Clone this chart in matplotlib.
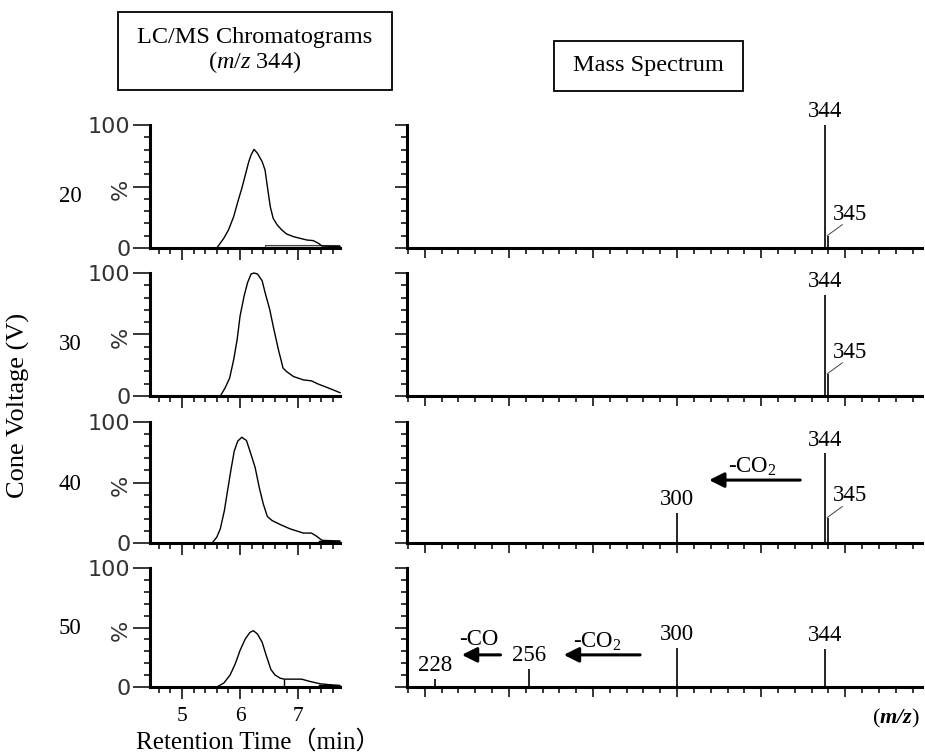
import matplotlib.pyplot as plt
import matplotlib.patches as patches
import numpy as np

W, H = 925, 755
plt.rcParams['font.family'] = 'Liberation Serif'
plt.rcParams['mathtext.fontset'] = 'custom'
plt.rcParams['mathtext.rm'] = 'Liberation Serif'
plt.rcParams['mathtext.it'] = 'Liberation Serif:italic'
plt.rcParams['mathtext.bf'] = 'Liberation Serif:italic:bold'

# cone voltages (V), one row each
voltages = ['20', '30', '40', '50']

# LC/MS chromatograms of m/z 344: retention time (min) and relative intensity (%)
rt_20 = [4.45, 5.60, 5.72, 5.80, 5.89, 5.97, 6.03, 6.09, 6.15, 6.19, 6.24, 6.30, 6.38,
         6.43, 6.47, 6.52, 6.57, 6.64, 6.72, 6.80, 6.92, 7.03, 7.15, 7.26, 7.35, 7.41, 7.72]
in_20 = [0, 0, 7.9, 14.6, 25.5, 39, 48.5, 59.3, 70.2, 75.6, 80.2, 77, 70.2,
         63.4, 49.9, 33.6, 24.1, 18.7, 14.6, 11.4, 9.2, 7.9, 6.5, 6, 3.8, 1.6, 1.2]
rt_30 = [4.45, 5.66, 5.74, 5.82, 5.89, 5.95, 6.00, 6.07, 6.13, 6.19, 6.24, 6.30, 6.38,
         6.43, 6.51, 6.57, 6.66, 6.74, 6.80, 6.92, 7.09, 7.23, 7.35, 7.49, 7.72]
in_30 = [0, 0, 6.3, 14.5, 29.5, 45.9, 65, 81.4, 92.3, 99.2, 100, 99.2, 93.7,
         84.2, 70.5, 56.8, 37.7, 22.7, 19.9, 15.8, 13.1, 12.3, 9.6, 7.1, 2.7]
rt_40 = [4.45, 5.52, 5.60, 5.66, 5.73, 5.78, 5.84, 5.90, 5.96, 6.03, 6.11, 6.17, 6.26,
         6.33, 6.40, 6.47, 6.55, 6.69, 6.86, 7.09, 7.23, 7.32, 7.41, 7.72]
in_40 = [0, 0, 4.9, 11.7, 26.8, 41.8, 59.6, 76, 84.2, 87.4, 84.7, 76, 62.3,
         45.9, 32.2, 21.9, 18.6, 15.3, 11.7, 8.2, 8.2, 5.5, 2.2, 1.6]
rt_50 = [4.45, 5.60, 5.72, 5.83, 5.92, 6.00, 6.09, 6.17, 6.23, 6.30, 6.38, 6.45, 6.53,
         6.60, 6.69, 6.76, 7.06, 7.20, 7.38, 7.72]
in_50 = [0, 0, 3.3, 10.2, 19.8, 30.8, 40.4, 45.9, 47.3, 44.5, 37.6, 26.6, 14.8,
         10.2, 7.4, 6.6, 6.6, 4.7, 2.7, 1.1]
chrom_rt = [rt_20, rt_30, rt_40, rt_50]
chrom_in = [in_20, in_30, in_40, in_50]

# mass spectra: m/z and relative abundance (%)
mz_20 = [344, 345]
ab_20 = [100, 10]
mz_30 = [344, 345]
ab_30 = [82, 18]
mz_40 = [300, 344, 345]
ab_40 = [25, 74, 21]
mz_50 = [228, 256, 300, 344]
ab_50 = [7, 15, 33, 32]
spec_mz = [mz_20, mz_30, mz_40, mz_50]
spec_ab = [ab_20, ab_30, ab_40, ab_50]

# neutral-loss arrows: (row, m/z start, m/z end, level %, label, label m/z, label level %)
losses = [
    (2, 336.6, 309.5, 52, '-CO$_2$', 322.3, 63),
    (3, 289.0, 266.3, 27, '-CO$_2$', 276.2, 38),
    (3, 247.5, 236.0, 27, '-CO', 240.9, 40),
]

rows = [(125, 248), (273, 396), (422, 543), (568, 687)]
voltage_y = [197, 345, 484, 629]

fig = plt.figure(figsize=(W / 100, H / 100), dpi=100)


def add_ax(x0, x1, y0, y1):
    return fig.add_axes([x0 / W, 1 - y1 / H, (x1 - x0) / W, (y1 - y0) / H])


def style(ax):
    for s in ['top', 'right']:
        ax.spines[s].set_visible(False)
    for s in ['left', 'bottom']:
        ax.spines[s].set_linewidth(2.2)
    ax.set_ylim(0, 100)
    ax.set_yticks([0, 50, 100])
    ax.set_yticks(np.arange(10, 100, 10), minor=True)
    ax.tick_params(which='major', direction='out', length=8.5, width=1.1)
    ax.tick_params(which='minor', direction='out', length=4, width=1.1)
    ax.patch.set_alpha(0)


for i in range(4):
    top, bot = rows[i]
    # chromatogram
    ax = add_ax(150, 340, top, bot)
    style(ax)
    ax.set_xlim(4.45, 7.72)
    ax.plot(chrom_rt[i], chrom_in[i], color='k', lw=1.0, clip_on=False, zorder=3)
    ax.set_xticks([5, 6, 7])
    ax.set_xticks(np.arange(4.6, 7.7, 0.2), minor=True)
    ax.set_yticklabels(['0', '%', '100'], fontfamily='DejaVu Sans', fontsize=16, color='#333')
    ax.get_yticklabels()[1].set_rotation(90)
    ax.tick_params(axis='y', which='major', length=12, pad=2)
    if i == 3:
        ax.set_xticklabels(['5', '6', '7'], fontsize=15.5)
        ax.tick_params(axis='x', which='major', pad=6)
    else:
        ax.set_xticklabels([])
    if i == 0:
        ax.fill_between([6.43, 7.70], 0, 2.2, facecolor='#d0d0d0', edgecolor='#444',
                        lw=0.8, zorder=2)
    if i in (2, 3):
        ax.plot([7.38, 7.70], [1, 1], color='k', lw=2.5, zorder=3)
    if i == 3:
        ax.vlines(6.76, 0, 6.6, color='k', lw=1.0)

    fig.text(70 / W, 1 - voltage_y[i] / H, voltages[i], fontsize=16.5,
             ha='center', va='center')

    # mass spectrum
    ax = add_ax(407, 922, top, bot)
    style(ax)
    ax.set_xlim(219.7, 372.8)
    ax.set_xticks(np.arange(225, 372, 25))
    ax.set_xticks(np.arange(220, 372, 5), minor=True)
    ax.set_xticklabels([])
    ax.set_yticklabels([])
    ax.tick_params(axis='x', which='major', length=7)
    ax.vlines(spec_mz[i], 0, spec_ab[i], color='k', lw=1.2)
    for mz, ab in zip(spec_mz[i], spec_ab[i]):
        if mz == 345:
            ax.annotate('345', xy=(mz, ab), xytext=(3, 8), textcoords='offset points',
                        fontsize=16.5, ha='left', va='bottom')
            ax.annotate('', xy=(mz - 0.4, ab), xytext=(11, 8), textcoords='offset points',
                        arrowprops=dict(arrowstyle='-', lw=0.7, color='#444',
                                        shrinkA=0, shrinkB=0))
        else:
            ax.annotate(str(mz), xy=(mz, ab), xytext=(0, 2), textcoords='offset points',
                        fontsize=16.5, ha='center', va='bottom')
    for row, x0, x1, lvl, lab, lx, ly in losses:
        if row != i:
            continue
        ax.annotate('', xy=(x1, lvl), xytext=(x0, lvl),
                    arrowprops=dict(arrowstyle='-|>,head_length=0.9,head_width=0.45',
                                    lw=2.2, color='k', shrinkA=0, shrinkB=0))
        ax.text(lx, ly, lab, fontsize=16.5, ha='center', va='center')

# titles in boxes
for (x0, y0, x1, y1), txt in [((118, 12, 392, 90), 'LC/MS Chromatograms\n($m/z$ 344)'),
                              ((554, 41, 743, 91), 'Mass Spectrum')]:
    fig.patches.append(patches.Rectangle((x0 / W, 1 - y1 / H), (x1 - x0) / W, (y1 - y0) / H,
                                         transform=fig.transFigure, fill=False,
                                         lw=1.3, edgecolor='k'))
    fig.text((x0 + x1) / 2 / W, 1 - (y0 + y1) / 2 / H, txt, fontsize=17.5,
             ha='center', va='center', linespacing=1.1)

fig.text(18 / W, 1 - 405 / H, 'Cone Voltage (V)', fontsize=19, rotation=90,
         ha='center', va='center')
fig.text(258 / W, 1 - 742 / H, 'Retention Time（min）', fontsize=18,
         family=['Liberation Serif', 'Noto Sans CJK JP'], ha='center', va='center')
fig.text(920 / W, 1 - 718 / H, r'($\mathbf{m/z}$)', fontsize=16, ha='right', va='center')

fig.savefig('out.png', dpi=100)
